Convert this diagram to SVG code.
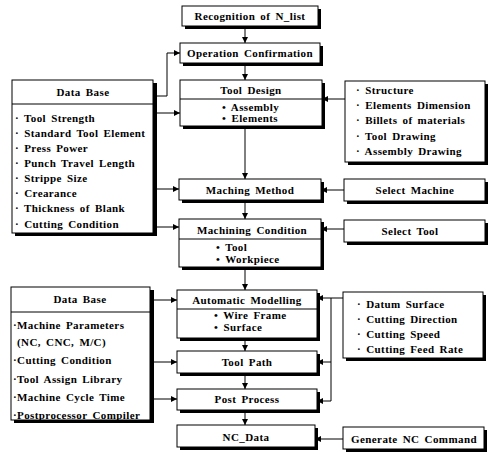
<svg xmlns="http://www.w3.org/2000/svg" width="489" height="453" viewBox="0 0 489 453">
<defs>
<marker id="ah" viewBox="0 0 8 8" refX="8" refY="4" markerWidth="6" markerHeight="6" orient="auto" markerUnits="userSpaceOnUse">
<path d="M0,0 L8,4 L0,8 z" fill="#000"/>
</marker>
</defs>
<style>
.box{fill:#fff;stroke:#000;stroke-width:1}
.sh{fill:#000}
.div{stroke:#000;stroke-width:1}
text{font-family:"Liberation Serif","DejaVu Serif",serif;font-weight:bold;font-size:11px;fill:#000;letter-spacing:0.4px;word-spacing:2px}
.c{text-anchor:middle}
.con{fill:none;stroke:#000;stroke-width:1}
.ar{marker-end:url(#ah)}
</style>
<rect width="489" height="453" fill="#fff"/>

<g id="connectors">
<path class="con ar" d="M245,26 V43"/>
<path class="con ar" d="M245,63 V80"/>
<path class="con ar" d="M245,126 V179"/>
<path class="con ar" d="M245,200 V219"/>
<path class="con ar" d="M245,267 V290"/>
<path class="con ar" d="M245,338 V351"/>
<path class="con ar" d="M245,373 V389"/>
<path class="con ar" d="M245,410 V425"/>
<path class="con ar" d="M157,96 H167 V53 H180"/>
<path class="con ar" d="M157,113 H180"/>
<path class="con ar" d="M157,189 H179"/>
<path class="con ar" d="M157,227 H179"/>
<path class="con ar" d="M154,300 H177"/>
<path class="con ar" d="M154,362 H177"/>
<path class="con ar" d="M154,399 H177"/>
<path class="con ar" d="M345,99 H322"/>
<path class="con ar" d="M344,190 H321"/>
<path class="con ar" d="M344,229 H321"/>
<path class="con ar" d="M343,439 H315"/>
<path class="con ar" d="M343,298 H317"/>
<path class="con" d="M331,298 V401"/>
<path class="con ar" d="M331,362 H317"/>
<path class="con ar" d="M331,401 H317"/>
</g>

<g id="recognition">
<rect class="sh" x="185" y="9" width="136" height="20"/>
<rect class="box" x="182" y="6" width="136" height="20"/>
<text class="c" x="250" y="20">Recognition of N_list</text>
</g>

<g id="operation">
<rect class="sh" x="183" y="46" width="140" height="20"/>
<rect class="box" x="180" y="43" width="140" height="20"/>
<text class="c" x="250" y="57">Operation Confirmation</text>
</g>

<g id="tooldesign">
<rect class="sh" x="183" y="83" width="142" height="46"/>
<rect class="box" x="180" y="80" width="142" height="46"/>
<line class="div" x1="180" y1="99" x2="322" y2="99"/>
<text class="c" x="251" y="94">Tool Design</text>
<text x="222" y="111">• Assembly</text>
<text x="222" y="122">• Elements</text>
</g>

<g id="machingmethod">
<rect class="sh" x="182" y="182" width="142" height="21"/>
<rect class="box" x="179" y="179" width="142" height="21"/>
<text class="c" x="250" y="194">Maching Method</text>
</g>

<g id="machiningcondition">
<rect class="sh" x="182" y="222" width="142" height="48"/>
<rect class="box" x="179" y="219" width="142" height="48"/>
<line class="div" x1="179" y1="239" x2="321" y2="239"/>
<text class="c" x="252" y="234">Machining Condition</text>
<text x="216" y="251">• Tool</text>
<text x="216" y="263">• Workpiece</text>
</g>

<g id="automatic">
<rect class="sh" x="180" y="293" width="140" height="48"/>
<rect class="box" x="177" y="290" width="140" height="48"/>
<line class="div" x1="177" y1="309" x2="317" y2="309"/>
<text class="c" x="247" y="304">Automatic Modelling</text>
<text x="214" y="319">• Wire Frame</text>
<text x="214" y="331">• Surface</text>
</g>

<g id="toolpath">
<rect class="sh" x="180" y="354" width="140" height="22"/>
<rect class="box" x="177" y="351" width="140" height="22"/>
<text class="c" x="247" y="366">Tool Path</text>
</g>

<g id="postprocess">
<rect class="sh" x="180" y="392" width="140" height="21"/>
<rect class="box" x="177" y="389" width="140" height="21"/>
<text class="c" x="247" y="403">Post Process</text>
</g>

<g id="ncdata">
<rect class="sh" x="180" y="428" width="138" height="22"/>
<rect class="box" x="177" y="425" width="138" height="22"/>
<text class="c" x="246" y="441">NC_Data</text>
</g>

<g id="database1">
<rect class="sh" x="15" y="83" width="142" height="153"/>
<rect class="box" x="12" y="80" width="141" height="153"/>
<line class="div" x1="12" y1="104" x2="153" y2="104"/>
<text class="c" x="83" y="96">Data Base</text>
<text x="15" y="122">· Tool Strength</text>
<text x="15" y="137">· Standard Tool Element</text>
<text x="15" y="152">· Press Power</text>
<text x="15" y="167">· Punch Travel Length</text>
<text x="15" y="182">· Strippe Size</text>
<text x="15" y="197">· Crearance</text>
<text x="15" y="212">· Thickness of Blank</text>
<text x="15" y="228">· Cutting Condition</text>
</g>

<g id="database2">
<rect class="sh" x="14" y="290" width="140" height="133"/>
<rect class="box" x="11" y="287" width="139" height="133"/>
<line class="div" x1="11" y1="312" x2="150" y2="312"/>
<text class="c" x="80" y="303">Data Base</text>
<text x="13" y="329">·Machine Parameters</text>
<text x="17" y="346">(NC, CNC, M/C)</text>
<text x="13" y="364">·Cutting Condition</text>
<text x="13" y="383">·Tool Assign Library</text>
<text x="13" y="401">·Machine Cycle Time</text>
<text x="13" y="419">·Postprocessor Compiler</text>
</g>

<g id="structure">
<rect class="sh" x="348" y="84" width="140" height="81"/>
<rect class="box" x="345" y="81" width="140" height="81"/>
<text x="356" y="94">· Structure</text>
<text x="356" y="109">· Elements Dimension</text>
<text x="356" y="124">· Billets of materials</text>
<text x="356" y="140">· Tool Drawing</text>
<text x="356" y="155">· Assembly Drawing</text>
</g>

<g id="selectmachine">
<rect class="sh" x="347" y="182" width="141" height="22"/>
<rect class="box" x="344" y="179" width="141" height="22"/>
<text class="c" x="415" y="194">Select Machine</text>
</g>

<g id="selecttool">
<rect class="sh" x="347" y="223" width="141" height="22"/>
<rect class="box" x="344" y="220" width="141" height="22"/>
<text class="c" x="410" y="235">Select Tool</text>
</g>

<g id="datum">
<rect class="sh" x="346" y="295" width="140" height="66"/>
<rect class="box" x="343" y="292" width="140" height="66"/>
<text x="357" y="308">· Datum Surface</text>
<text x="357" y="323">· Cutting Direction</text>
<text x="357" y="338">· Cutting Speed</text>
<text x="357" y="353">· Cutting Feed Rate</text>
</g>

<g id="generatenc">
<rect class="sh" x="346" y="430" width="141" height="22"/>
<rect class="box" x="343" y="427" width="141" height="22"/>
<text class="c" x="414" y="443">Generate NC Command</text>
</g>
</svg>
